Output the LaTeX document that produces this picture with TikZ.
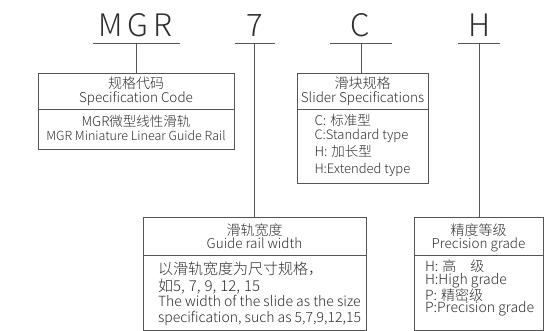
\documentclass[tikz,border=0pt]{standalone}
\usepackage{fontspec}
\setmainfont{Noto Sans CJK SC}[UprightFont={* Light}]
\definecolor{txt}{HTML}{2E2E2E}
\definecolor{ln}{HTML}{555555}
\begin{document}
\begin{tikzpicture}[x=1pt,y=-1pt,
  every node/.style={inner sep=0pt,outer sep=0pt,text=txt},
  title/.style={font=\fontsize{31}{31}\selectfont,anchor=base},
  cn/.style={font=\fontsize{14}{14}\selectfont,text height=0.8em,text depth=0.1em},
  en/.style={font=\fontsize{13.5}{13.5}\selectfont,text height=0.7em,text depth=0.18em},
  bcn/.style={font=\fontsize{#1}{#1}\selectfont,text height=0.8em,text depth=0.1em},
  ben/.style={font=\fontsize{#1}{#1}\selectfont,text height=0.7em,text depth=0.18em},
  boxpart/.style={draw=ln,line width=0.8pt,anchor=north west,rectangle},
  conn/.style={draw=ln,line width=0.8pt},
]
\useasboundingbox (0,0) rectangle (545,331);
% titles
\node[title] (t1) at (135.5,37) {M\kern4.5pt G\kern4.5pt R};
\node[title] (t2) at (255,37) {7};
\node[title] (t3) at (360.5,37) {C};
\node[title] (t4) at (479,37) {H};
% underline centres
\coordinate (u1) at (136,43);
\coordinate (u2) at (254,43);
\coordinate (u3) at (361,43);
\coordinate (u4) at (479,43);
\draw[conn] ([xshift=-43pt]u1) -- ([xshift=44pt]u1);
\draw[conn] ([xshift=-19pt]u2) -- ([xshift=21pt]u2);
\draw[conn] ([xshift=-31pt]u3) -- ([xshift=31pt]u3);
\draw[conn] ([xshift=-21pt]u4) -- ([xshift=21pt]u4);
% box 1
\node[boxpart,minimum width=196pt,minimum height=36pt] (h1) at (38,73) {};
\node[boxpart,minimum width=196pt,minimum height=40pt] (b1) at (38,109) {};
\node[cn] (h1a) at (136,85) {规格代码};
\node[en] (h1b) at (136,99.5) {Specification Code};
\node[bcn=13.5] (b1a) at (136,123) {MGR微型线性滑轨};
\node[ben=12.5] (b1b) at (136,137.5) {MGR Miniature Linear Guide Rail};
% box 3
\node[boxpart,minimum width=131pt,minimum height=36pt] (h3) at (297,73) {};
\node[boxpart,minimum width=131pt,minimum height=74pt] (b3) at (297,109) {};
\node[cn] (h3a) at (362.5,85) {滑块规格};
\node[en] (h3b) at (362.5,99.5) {Slider Specifications};
\node[bcn=13.5,anchor=west] (b3a) at (314.5,122) {C:\hspace{4pt}标准型};
\node[ben=13,anchor=west] (b3b) at (314.5,137) {C:Standard type};
\node[bcn=13.5,anchor=west] (b3c) at (314.5,153) {H:\hspace{4pt}加长型};
\node[ben=13,anchor=west] (b3d) at (314.5,170.5) {H:Extended type};
% box 2
\node[boxpart,minimum width=223pt,minimum height=38pt] (h2) at (143,217) {};
\node[boxpart,minimum width=223pt,minimum height=75pt] (b2) at (143,255) {};
\node[cn] (h2a) at (254.5,232) {滑轨宽度};
\node[en] (h2b) at (254.5,245.5) {Guide rail width};
\node[bcn=15,anchor=west] (b2a) at (158,270.5) {以滑轨宽度为尺寸规格，};
\node[bcn=15,anchor=west] (b2b) at (158,288) {如5,\hspace{4pt}7,\hspace{4pt}9,\hspace{4pt}12,\hspace{4pt}15};
\node[ben=14,anchor=west] (b2c) at (158,303.5) {The width of the slide as the size};
\node[ben=14,anchor=west] (b2d) at (158,319.5) {specification, such as 5,7,9,12,15};
% box 4
\node[boxpart,minimum width=129pt,minimum height=38pt] (h4) at (414,217) {};
\node[boxpart,minimum width=129pt,minimum height=75pt] (b4) at (414,255) {};
\node[cn] (h4a) at (478.5,232) {精度等级};
\node[en] (h4b) at (478.5,245.5) {Precision grade};
\node[bcn=14,anchor=west] (b4a) at (425,267.5) {H:\hspace{4pt}高\hspace{1em}级};
\node[ben=14,anchor=west] (b4b) at (425,282) {H:High grade};
\node[bcn=14,anchor=west] (b4c) at (425,296.5) {P:\hspace{4pt}精密级};
\node[ben=14,anchor=west] (b4d) at (425,310) {P:Precision grade};
% connectors
\draw[conn] (u1) -- (u1 |- h1.north);
\draw[conn] (u2) -- (u2 |- h2.north);
\draw[conn] (u3) -- (u3 |- h3.north);
\draw[conn] (u4) -- (u4 |- h4.north);
\end{tikzpicture}
\end{document}
